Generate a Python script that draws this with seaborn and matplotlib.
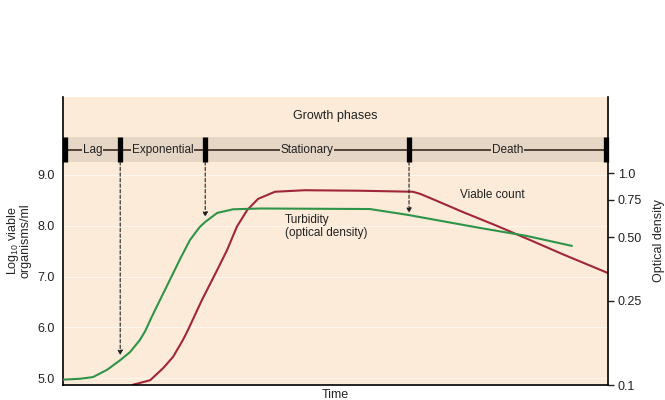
import numpy as np
import pandas as pd
import matplotlib
matplotlib.use("Agg")
import matplotlib.pyplot as plt
import seaborn as sns

# viable count, log10 organisms/ml (left axis)
viable_t = [12.8, 16.0, 18.4, 20.2, 22.0, 22.9, 25.5, 28.3, 30.1, 31.9, 33.8,
            35.8, 38.9, 44.4, 54.5, 64.2, 65.5, 67.3, 73.4, 79.6, 85.7, 91.7,
            100.0]
viable_log = [4.87, 4.96, 5.20, 5.42, 5.75, 5.94, 6.54, 7.13, 7.52, 7.98, 8.31,
              8.53, 8.67, 8.70, 8.69, 8.67, 8.63, 8.55, 8.27, 8.00, 7.72, 7.44,
              7.07]

# turbidity, optical density (right axis, log scale)
od_t = [0.0, 3.1, 5.5, 8.1, 10.5, 12.3, 14.1, 15.1, 16.3, 17.8, 19.6, 21.5,
        23.3, 25.1, 26.1, 28.3, 31.2, 36.2, 56.3, 63.3, 76.5, 85.1, 93.4]
od = [0.106, 0.107, 0.109, 0.118, 0.131, 0.143, 0.163, 0.180, 0.210, 0.252,
      0.313, 0.394, 0.484, 0.558, 0.589, 0.650, 0.676, 0.682, 0.678, 0.636,
      0.552, 0.506, 0.454]

phase_names = ["Lag", "Exponential", "Stationary", "Death"]
phase_edges = [0.4, 10.5, 26.1, 63.5, 99.6]
arrow_tips = [5.45, 8.17, 8.25]   # where the dashed arrows end (left-axis units)

left_ticks = [5.0, 6.0, 7.0, 8.0, 9.0]
right_ticks = [0.1, 0.25, 0.5, 0.75, 1.0]
right_labels = ["0.1", "0.25", "0.50", "0.75", "1.0"]

cream = "#fdebd9"
band = "#e6d6c6"
green = "#2e9448"
red = "#a12638"

sns.set_theme(style="white")
plt.rcParams["font.family"] = ["Liberation Sans", "DejaVu Sans"]
plt.rcParams["mathtext.default"] = "regular"

fig = plt.figure(figsize=(6.65, 4.0), dpi=100)
ax = fig.add_axes([0.0947, 0.0375, 0.8195, 0.72])
ax.set_facecolor(cream)

viable = pd.DataFrame({"time": viable_t, "count": viable_log})
sns.lineplot(data=viable, x="time", y="count", ax=ax, color=red, lw=1.5,
             solid_joinstyle="round")

ax.set_xlim(0, 100)
ax.set_ylim(4.866, 10.535)
ax.set_yticks(left_ticks)
ax.set_yticklabels([f"{v:.1f}" for v in left_ticks])
ax.set_xticks([])
ax.tick_params(axis="y", length=0, pad=6, labelsize=9, colors="#222222")
ax.grid(axis="y", color="white", lw=0.8, alpha=0.6)
ax.set_xlabel("Time", fontsize=9, labelpad=3)
ax.set_ylabel("Log$_{10}$ viable\norganisms/ml", fontsize=9, labelpad=4,
              linespacing=0.9)
for s in ["top", "right"]:
    ax.spines[s].set_visible(False)
for s in ["left", "bottom"]:
    ax.spines[s].set_color("black")
    ax.spines[s].set_linewidth(1.2)

# growth phase band
ax.axhspan(9.26, 9.75, color=band, lw=0)
ax.hlines(9.50, phase_edges[0], phase_edges[-1], color="#3a2a20", lw=1.2)
ax.vlines(phase_edges, 9.26, 9.75, color="black", lw=3.8, clip_on=False)
for i, name in enumerate(phase_names):
    mid = (phase_edges[i] + phase_edges[i + 1]) / 2
    ax.text(mid, 9.50, name, ha="center", va="center", fontsize=8.5,
            color="#222222",
            bbox=dict(facecolor=band, edgecolor="none", pad=0.6))
ax.text(49.9, 10.16, "Growth phases", ha="center", va="center", fontsize=9,
        color="#222222")

for x, tip in zip(phase_edges[1:4], arrow_tips):
    ax.annotate("", xy=(x, tip), xytext=(x, 9.26),
                arrowprops=dict(arrowstyle="-|>", color="#222222", lw=0.8,
                                ls=(0, (3, 2)), mutation_scale=7,
                                shrinkA=0, shrinkB=0))

ax.text(72.8, 8.61, "Viable count", ha="left", va="center", fontsize=8.5,
        color="#222222")
ax.text(40.7, 7.98, "Turbidity\n(optical density)", ha="left", va="center",
        fontsize=8.5, color="#222222", linespacing=1.1)

ax2 = ax.twinx()
turb = pd.DataFrame({"time": od_t, "od": od})
sns.lineplot(data=turb, x="time", y="od", ax=ax2, color=green, lw=1.5,
             solid_joinstyle="round")
ax2.set_yscale("log")
ax2.set_ylim(0.1, 2.293)
ax2.set_yticks(right_ticks)
ax2.set_yticklabels(right_labels)
ax2.minorticks_off()
ax2.tick_params(axis="y", which="major", length=4, width=1, pad=3,
                labelsize=9, colors="#222222", direction="out", right=True)
ax2.set_ylabel("Optical density", fontsize=9, labelpad=8)
ax2.set_xlabel("")
for s in ["top", "left", "bottom"]:
    ax2.spines[s].set_visible(False)
ax2.spines["right"].set_color("black")
ax2.spines["right"].set_linewidth(1.2)

fig.savefig("out.png", dpi=100)
